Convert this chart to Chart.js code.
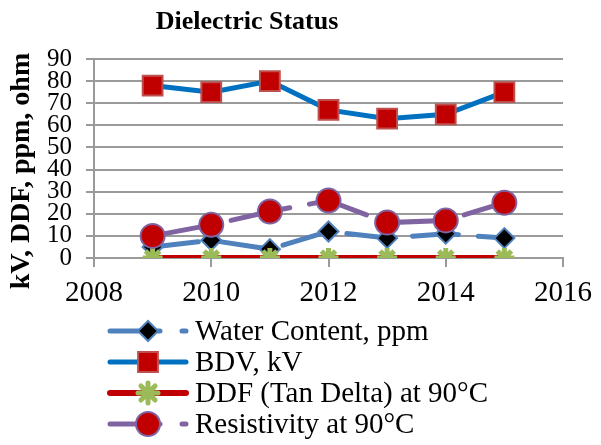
<!DOCTYPE html>
<html>
<head>
<meta charset="utf-8">
<script src="https://cdn.jsdelivr.net/npm/chart.js@4/dist/chart.umd.min.js"></script>
<style>
  html, body { margin: 0; padding: 0; background: #fff; }
  #wrap { width: 601px; height: 445px; }
</style>
</head>
<body>
<div id="wrap"><canvas id="myChart" width="601" height="445"></canvas></div>
<script>
const years = [2009, 2010, 2011, 2012, 2013, 2014, 2015];
const waterContent = [5, 8, 4, 12, 9, 11, 9];
const bdv = [78, 75, 80, 67, 63, 65, 75];
const ddf = [0, 0, 0, 0, 0, 0, 0];
const resistivity = [10, 15, 21, 26, 16, 17, 25];

const seriesNames = [
    'Water Content, ppm',
    'BDV, kV',
    'DDF (Tan Delta) at 90°C',
    'Resistivity at 90°C',
];
const chartTitle = 'Dielectric Status';
const yTitle = 'kV, DDF, ppm, ohm';

const font = 'Liberation Serif, Times New Roman, serif';
const gridColor = '#9a9a9a';

const pts = vals => years.map((x, i) => ({ x, y: vals[i] }));

const data = {
    datasets: [
        {
            label: seriesNames[0],
            data: pts(waterContent),
            borderColor: '#4f81bd',
            borderWidth: 5,
            borderDash: [46, 20],
            borderCapStyle: 'round',
            pointStyle: 'rectRot',
            pointRadius: 10,
            pointBackgroundColor: '#000',
            pointBorderColor: '#4f81bd',
            pointBorderWidth: 2,
            order: 4,
        },
        {
            label: seriesNames[1],
            data: pts(bdv),
            borderColor: '#0070c0',
            borderWidth: 5,
            pointStyle: 'rect',
            pointRadius: 14,
            pointBackgroundColor: '#c00000',
            pointBorderColor: '#c0504d',
            pointBorderWidth: 2,
            order: 3,
        },
        {
            label: seriesNames[2],
            data: pts(ddf),
            borderColor: '#c00000',
            borderWidth: 6,
            pointStyle: 'star',
            pointRadius: 10,
            pointBackgroundColor: '#9bbb59',
            pointBorderColor: '#9bbb59',
            pointBorderWidth: 5,
            order: 2,
        },
        {
            label: seriesNames[3],
            data: pts(resistivity),
            borderColor: '#8064a2',
            borderWidth: 5,
            borderDash: [60, 20],
            borderCapStyle: 'round',
            pointStyle: 'circle',
            pointRadius: 12,
            pointBackgroundColor: '#c00000',
            pointBorderColor: '#8064a2',
            pointBorderWidth: 2,
            order: 1,
        },
    ],
};

// title, rotated y title and a one-entry-per-row legend
const extras = {
    id: 'extras',
    afterDraw(chart) {
        const ctx = chart.ctx;
        ctx.save();
        ctx.fillStyle = '#000';
        ctx.textAlign = 'center';
        ctx.textBaseline = 'middle';
        ctx.font = 'bold 26px ' + font;
        ctx.fillText(chartTitle, 247, 22);
        ctx.font = 'bold 28px ' + font;
        ctx.translate(22, 171);
        ctx.rotate(-Math.PI / 2);
        ctx.fillText(yTitle, 0, 0);
        ctx.restore();

        chart.data.datasets.forEach((ds, i) => {
            const y = 331 + i * 31;
            ctx.save();
            ctx.strokeStyle = ds.borderColor;
            ctx.lineWidth = ds.borderWidth;
            ctx.lineCap = 'round';
            ctx.setLineDash(ds.borderDash ? [50, 22] : []);
            ctx.beginPath();
            ctx.moveTo(110, y);
            ctx.lineTo(186, y);
            ctx.stroke();
            ctx.setLineDash([]);
            ctx.fillStyle = ds.pointBackgroundColor;
            ctx.strokeStyle = ds.pointBorderColor;
            ctx.lineWidth = ds.pointBorderWidth;
            Chart.helpers.drawPoint(ctx, {
                pointStyle: ds.pointStyle,
                radius: ds.pointRadius,
                borderWidth: ds.pointBorderWidth,
                rotation: 0,
            }, 148, y);
            ctx.fillStyle = '#000';
            ctx.font = '29px ' + font;
            ctx.textAlign = 'left';
            ctx.textBaseline = 'middle';
            ctx.fillText(ds.label, 195, y + 1);
            ctx.restore();
        });
    },
};

const config = {
    type: 'line',
    data: data,
    options: {
        responsive: false,
        animation: false,
        layout: { padding: { left: 0, right: 33, top: 59, bottom: 0 } },
        plugins: {
            legend: { display: false },
            tooltip: { enabled: false },
            title: { display: false },
        },
        scales: {
            x: {
                type: 'linear',
                min: 2008,
                max: 2016,
                afterFit: s => { s.height = 187; },
                ticks: {
                    stepSize: 2,
                    color: '#000',
                    padding: 9,
                    font: { family: font, size: 29 },
                    callback: v => String(v),
                },
                grid: { drawOnChartArea: false, color: gridColor, lineWidth: 2, tickLength: 9 },
                border: { color: gridColor, width: 2 },
            },
            y: {
                min: 0,
                max: 90,
                afterFit: s => { s.width = 94; },
                ticks: {
                    stepSize: 10,
                    autoSkip: false,
                    color: '#000',
                    padding: 14,
                    font: { family: font, size: 25 },
                },
                grid: { color: gridColor, lineWidth: 2, tickLength: 8 },
                border: { color: gridColor, width: 2 },
            },
        },
    },
    plugins: [extras],
};

const myChart = new Chart(document.querySelector('#myChart').getContext('2d'), config);
</script>
</body>
</html>
